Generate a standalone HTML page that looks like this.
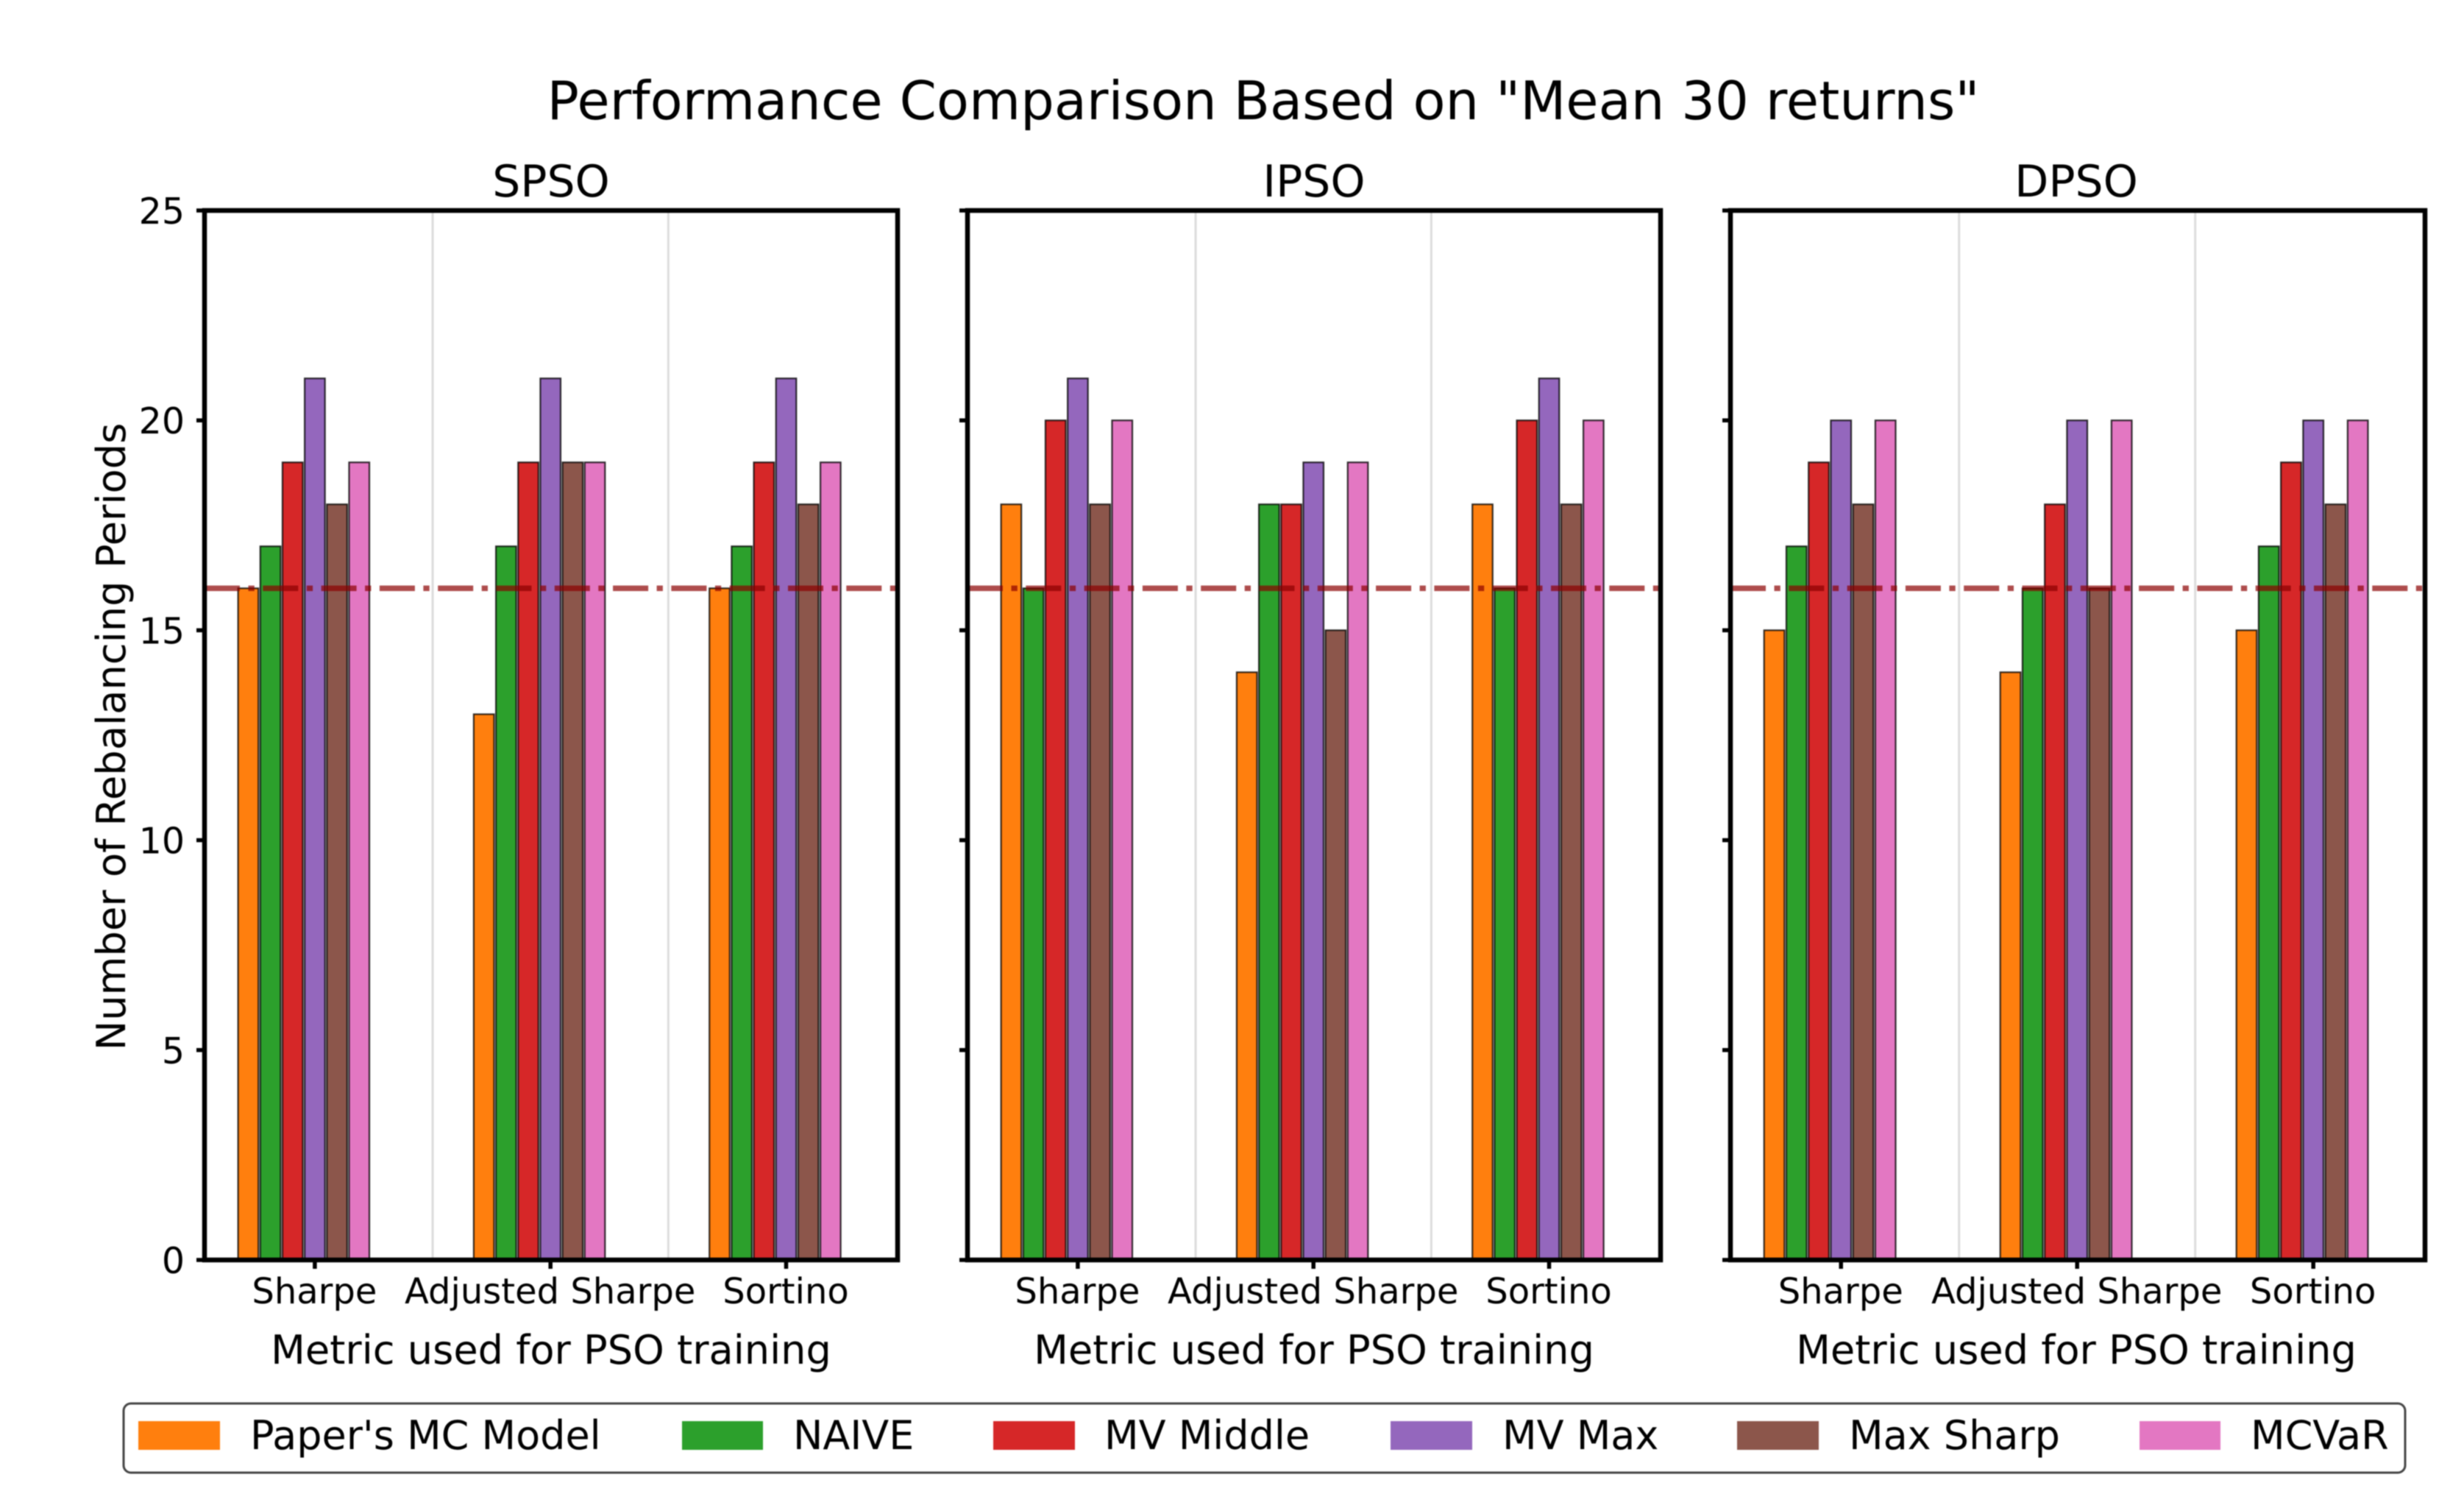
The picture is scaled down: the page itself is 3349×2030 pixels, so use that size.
<!DOCTYPE html>
<html lang="en">
<head>
<meta charset="utf-8">
<title>Performance Comparison</title>
<style>
html,body{margin:0;padding:0;background:#fff;}
svg{display:block;filter:blur(0.7px);}
text{font-family:"DejaVu Sans","Liberation Sans",sans-serif;fill:#000;}
</style>
</head>
<body>
<svg id="chart" xmlns="http://www.w3.org/2000/svg" width="3349" height="2030" viewBox="0 0 3349 2030">
  <rect x="0" y="0" width="3349" height="2030" fill="#fff"/>
  <text x="1717" y="162" font-size="72" text-anchor="middle">Performance Comparison Based on "Mean 30 returns"</text>
  <text x="0" y="0" font-size="54.3" text-anchor="middle" transform="translate(170 1001) rotate(-90)">Number of Rebalancing Periods</text>
  <g id="panels"></g>
  <g>
    <rect x="168" y="1907" width="3101" height="94" rx="10" ry="10" fill="#fff" stroke="#444" stroke-width="3"/>
    <g>
      <rect x="188" y="1931" width="111" height="39" fill="#ff7f0e"/>
      <text x="340" y="1969" font-size="54">Paper's MC Model</text>
    </g>
    <g>
      <rect x="927" y="1931" width="110" height="39" fill="#2ca02c"/>
      <text x="1078" y="1969" font-size="54">NAIVE</text>
    </g>
    <g>
      <rect x="1350" y="1931" width="111" height="39" fill="#d62728"/>
      <text x="1501" y="1969" font-size="54">MV Middle</text>
    </g>
    <g>
      <rect x="1890" y="1931" width="111" height="39" fill="#9467bd"/>
      <text x="2042" y="1969" font-size="54">MV Max</text>
    </g>
    <g>
      <rect x="2361" y="1931" width="111" height="39" fill="#8c564b"/>
      <text x="2513" y="1969" font-size="54">Max Sharp</text>
    </g>
    <g>
      <rect x="2908" y="1931" width="110" height="39" fill="#e377c2"/>
      <text x="3059" y="1969" font-size="54">MCVaR</text>
    </g>
  </g>
</svg>
<script>
const panelNames = ["SPSO", "IPSO", "DPSO"];
const categories = ["Sharpe", "Adjusted Sharpe", "Sortino"];
const seriesNames = ["Paper's MC Model", "NAIVE", "MV Middle", "MV Max", "Max Sharp", "MCVaR"];
const yTicks = [0, 5, 10, 15, 20, 25];
const referenceValue = 16;
const spsoSharpe = [16, 17, 19, 21, 18, 19];
const spsoAdjusted = [13, 17, 19, 21, 19, 19];
const spsoSortino = [16, 17, 19, 21, 18, 19];
const ipsoSharpe = [18, 16, 20, 21, 18, 20];
const ipsoAdjusted = [14, 18, 18, 19, 15, 19];
const ipsoSortino = [18, 16, 20, 21, 18, 20];
const dpsoSharpe = [15, 17, 19, 20, 18, 20];
const dpsoAdjusted = [14, 16, 18, 20, 16, 20];
const dpsoSortino = [15, 17, 19, 20, 18, 20];
const panelValues = [
  [spsoSharpe, spsoAdjusted, spsoSortino],
  [ipsoSharpe, ipsoAdjusted, ipsoSortino],
  [dpsoSharpe, dpsoAdjusted, dpsoSortino]
];

const seriesColors = ["#ff7f0e", "#2ca02c", "#d62728", "#9467bd", "#8c564b", "#e377c2"];
const panelLeft = [278, 1315, 2352];
const panelRight = [1220, 2257, 3296];
const plotTop = 286;
const plotBottom = 1712;
const yMax = 25;
const xMin = -0.468;
const xMax = 2.473;
const barStep = 0.0942;
const barWidth = 0.086;
const firstOffset = -3;
const NS = "http://www.w3.org/2000/svg";

function yScale(v) {
  return plotBottom - (v / yMax) * (plotBottom - plotTop);
}
function xScale(p, v) {
  return panelLeft[p] + ((v - xMin) / (xMax - xMin)) * (panelRight[p] - panelLeft[p]);
}
function make(parent, tag, attrs, text) {
  const el = document.createElementNS(NS, tag);
  for (const k in attrs) el.setAttribute(k, attrs[k]);
  if (text !== undefined) el.textContent = text;
  parent.appendChild(el);
  return el;
}
function slug(s) {
  return s.toLowerCase().replace(/[^a-z0-9]+/g, "-").replace(/^-|-$/g, "");
}

const root = document.getElementById("panels");
panelNames.forEach(function (name, p) {
  const g = make(root, "g", {});
  
  

  const left = panelLeft[p];
  const right = panelRight[p];
  const textCenter = (left + right) / 2 - (p === 2 ? 2 : 0);

  const title = make(g, "text", { x: textCenter, y: 267, "font-size": 60, "text-anchor": "middle" }, name);
  
  

  [0.5, 1.5].forEach(function (v, i) {
    const grid = make(g, "line", { x1: xScale(p, v), x2: xScale(p, v), y1: plotTop, y2: plotBottom, stroke: "#dcdcdc", "stroke-width": 3 });
    
    
  });

  categories.forEach(function (cat, c) {
    seriesNames.forEach(function (series, s) {
      const value = panelValues[p][c][s];
      const cx = c + (firstOffset + s) * barStep;
      const x0 = xScale(p, cx - barWidth / 2);
      const x1 = xScale(p, cx + barWidth / 2);
      const bar = make(g, "rect", {
        x: x0, y: yScale(value), width: x1 - x0, height: yScale(0) - yScale(value),
        fill: seriesColors[s], stroke: "#000", "stroke-opacity": 0.78, "stroke-width": 2.2
      });
      
      
    });
  });

  const ref = make(g, "line", {
    x1: left, x2: right, y1: yScale(referenceValue), y2: yScale(referenceValue),
    stroke: "#8b0000", "stroke-opacity": 0.7, "stroke-width": 7.5, "stroke-dasharray": "48 11.5 8.3 11.5"
  });
  
  

  const frame = make(g, "rect", { x: left, y: plotTop, width: right - left, height: plotBottom - plotTop, fill: "none", stroke: "#000", "stroke-width": 6.5 });
  
  

  yTicks.forEach(function (t) {
    const tick = make(g, "line", { x1: left - 11, x2: left, y1: yScale(t), y2: yScale(t), stroke: "#000", "stroke-width": 5.5 });
    
    
    if (p === 0) {
      const lab = make(g, "text", { x: 251, y: yScale(t) + 18, "font-size": 49, "text-anchor": "end" }, String(t));
      
      
    }
  });

  categories.forEach(function (cat, c) {
    const tx = xScale(p, c);
    const tick = make(g, "line", { x1: tx, x2: tx, y1: plotBottom, y2: plotBottom + 12, stroke: "#000", "stroke-width": 5.5 });
    
    
    const lab = make(g, "text", { x: tx - 0.5, y: 1771, "font-size": 48, "text-anchor": "middle" }, cat);
    
    
  });

  const xl = make(g, "text", { x: textCenter, y: 1853, "font-size": 54.2, "text-anchor": "middle" }, "Metric used for PSO training");
  
  
});
</script>
</body>
</html>
